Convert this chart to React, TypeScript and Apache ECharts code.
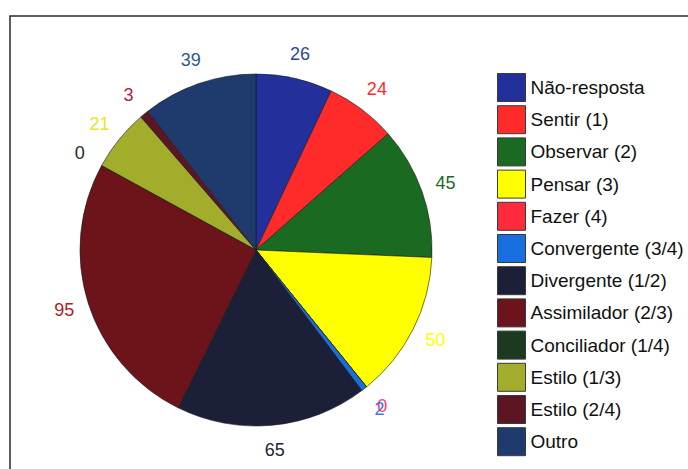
import React, { useEffect, useRef } from "react";
import * as echarts from "echarts";

const categories = [
  "Não-resposta",
  "Sentir (1)",
  "Observar (2)",
  "Pensar (3)",
  "Fazer (4)",
  "Convergente (3/4)",
  "Divergente (1/2)",
  "Assimilador (2/3)",
  "Conciliador (1/4)",
  "Estilo (1/3)",
  "Estilo (2/4)",
  "Outro",
];
const values = [26, 24, 45, 50, 0, 2, 65, 95, 0, 21, 3, 39];

const sliceColors = [
  "#23309c",
  "#ff2a2a",
  "#1b6a22",
  "#ffff00",
  "#ff2a3c",
  "#1a6fe0",
  "#1b1f38",
  "#6c1419",
  "#1b3a1f",
  "#a3ad2c",
  "#5c1522",
  "#1f3a6c",
];
const labelColors = [
  "#2a4a8c",
  "#ff2a2a",
  "#1a6b1f",
  "#ffff00",
  "#ff3c78",
  "#3a7ae0",
  "#1e2236",
  "#b0202a",
  "#1a2a1a",
  "#e6e61e",
  "#b02040",
  "#2a5a8a",
];

const FONT = '"Liberation Sans", Arial, sans-serif';

export default function App() {
  const ref = useRef<HTMLDivElement>(null);
  useEffect(() => {
    if (!ref.current) return;
    const chart = echarts.init(ref.current, null, { renderer: "svg" });
    const pieData = categories.map((name, i) => ({
      name,
      value: values[i],
      itemStyle: { color: sliceColors[i] },
    }));
    const labelData = categories.map((name, i) => ({
      name,
      value: values[i],
      label: { color: labelColors[i] },
    }));
    chart.setOption({
      animation: false,
      backgroundColor: "#ffffff",
      graphic: [
        {
          type: "polyline",
          shape: { points: [[10, 469], [10, 16], [688, 16]] },
          style: { stroke: "#2a2a2a", lineWidth: 1.5, fill: "none" },
        },
      ],
      legend: {
        orient: "vertical",
        left: 497,
        top: 73,
        padding: 0,
        itemWidth: 28,
        itemHeight: 28,
        itemGap: 3.2,
        icon: "rect",
        selectedMode: false,
        data: categories,
        itemStyle: { borderColor: "#3a3a3a", borderWidth: 1 },
        textStyle: { fontFamily: FONT, fontSize: 19, color: "#111111" },
      },
      series: [
        {
          type: "pie",
          center: [256, 250],
          radius: [0, 176],
          startAngle: 90,
          clockwise: true,
          label: { show: false },
          labelLine: { show: false },
          itemStyle: { borderColor: "#1a1a1a", borderWidth: 0.6 },
          emphasis: { disabled: true },
          data: pieData,
        },
        {
          type: "pie",
          center: [256, 250],
          radius: [183, 213],
          startAngle: 90,
          clockwise: true,
          silent: true,
          avoidLabelOverlap: false,
          legendHoverLink: false,
          itemStyle: { color: "rgba(0,0,0,0)" },
          label: {
            show: true,
            position: "inside",
            formatter: "{c}",
            fontFamily: FONT,
            fontSize: 18,
          },
          labelLayout: { hideOverlap: false },
          labelLine: { show: false },
          emphasis: { disabled: true },
          data: labelData,
        },
      ],
    });
    return () => chart.dispose();
  }, []);
  return (
    <div
      ref={ref}
      style={{ position: "fixed", left: 0, top: 0, width: 688, height: 469 }}
    />
  );
}
